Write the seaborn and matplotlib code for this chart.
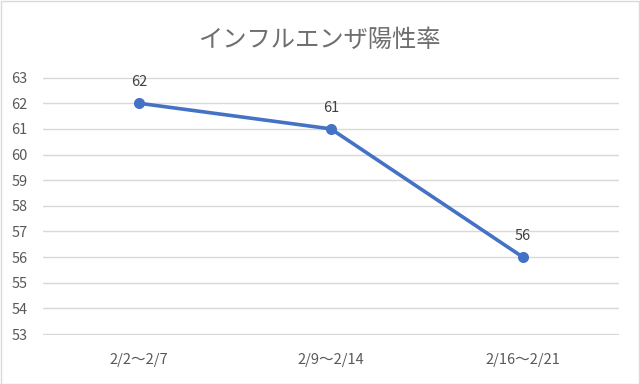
import matplotlib
matplotlib.use("Agg")
import matplotlib.pyplot as plt
import seaborn as sns
import pandas as pd

periods = ["2/2～2/7", "2/9～2/14", "2/16～2/21"]
rates = [62, 61, 56]
yticks = list(range(53, 64))

sns.set_theme(style="white")
plt.rcParams['font.family'] = ['Noto Sans CJK JP', 'DejaVu Sans']

df = pd.DataFrame({"period": periods, "rate": rates})

fig = plt.figure(figsize=(6.4, 3.84), dpi=100)
ax = fig.add_axes([0.067, 0.128, 0.9, 0.672])

sns.pointplot(data=df, x="period", y="rate", color="#4472C4", ax=ax,
              markers="o", linewidth=2.6, markersize=6)

ax.set_ylim(52.97, 63.03)
ax.set_xlim(-0.5, 2.5)
ax.set_yticks(yticks)
ax.yaxis.grid(True, color="#D9D9D9", linewidth=1)
ax.set_axisbelow(True)
for s in ax.spines.values():
    s.set_visible(False)
ax.tick_params(axis="both", length=0, labelsize=10.5, colors="#595959")
ax.tick_params(axis="y", pad=11)
ax.tick_params(axis="x", pad=13)
ax.set_xlabel("")
ax.set_ylabel("")

for i, v in enumerate(rates):
    ax.annotate(str(v), (i, v), xytext=(0, 10), textcoords="offset points",
                ha="center", va="bottom", fontsize=10.5, color="#404040")

fig.text(0.5, 0.895, "インフルエンザ陽性率", ha="center", va="center",
         fontsize=17.5, color="#6E6E6E")

fig.patches.append(plt.Rectangle((0.001, 0.001), 0.997, 0.997, transform=fig.transFigure,
                                 fill=False, edgecolor="#D9D9D9", linewidth=1))

fig.savefig("out.png", dpi=100)
